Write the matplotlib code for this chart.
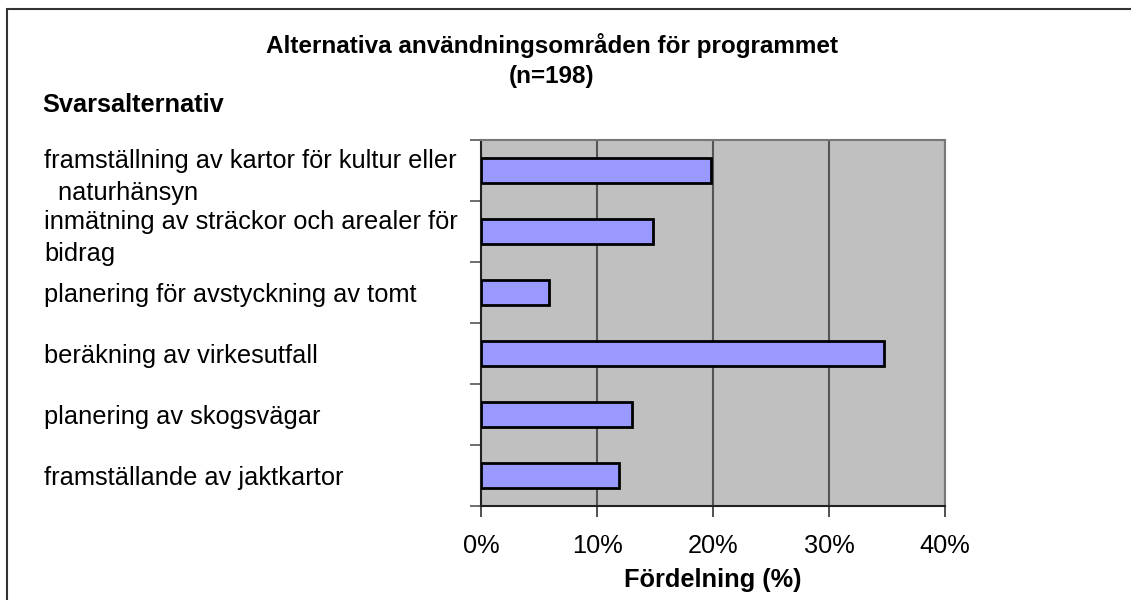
import matplotlib.pyplot as plt
from matplotlib.patches import Rectangle

plt.rcParams['font.family'] = ['Liberation Sans', 'DejaVu Sans']

categories = [
    "framställning av kartor för kultur eller\n  naturhänsyn",
    "inmätning av sträckor och arealer för\nbidrag",
    "planering för avstyckning av tomt",
    "beräkning av virkesutfall",
    "planering av skogsvägar",
    "framställande av jaktkartor",
]
values = [19.8, 14.8, 5.9, 34.7, 13.0, 11.9]
xticks = [0, 10, 20, 30, 40]
xtick_labels = ["0%", "10%", "20%", "30%", "40%"]

W, H = 1131, 600
fs = 18.3
fig = plt.figure(figsize=(W / 100, H / 100), dpi=100)

# outer chart frame (only top/left visible in the picture)
fig.patches.append(Rectangle((6.5 / W, -0.1), 1.2, 1.1 - 9 / H,
                             transform=fig.transFigure, fill=False,
                             edgecolor="#333333", linewidth=1.5))

ax = fig.add_axes([481 / W, 1 - 506 / H, (945 - 481) / W, (506 - 140) / H])
ax.set_facecolor("#C0C0C0")

n = len(categories)
pos = [n - 1 - i + 0.5 for i in range(n)]
ax.barh(pos, values, height=0.4, color="#9999FF", edgecolor="black",
        linewidth=2, zorder=3)

ax.set_xlim(0, 40)
ax.set_ylim(0, n)
ax.set_xticks(xticks)
ax.set_xticklabels(xtick_labels, fontsize=fs)
ax.grid(axis="x", color="#555555", linewidth=1.5, zorder=1)

ax.set_yticks(pos)
ax.set_yticklabels(categories, fontsize=fs, ha="left", linespacing=1.4)
ax.set_yticks(range(n + 1), minor=True)
ax.tick_params(axis="y", which="major", length=0, pad=437 * 0.72)
ax.tick_params(axis="y", which="minor", length=8, width=1.2, color="#555555")
ax.tick_params(axis="x", length=8, width=1.2, color="#333333", pad=12)

for s in ["top", "right"]:
    ax.spines[s].set_color("#777777")
    ax.spines[s].set_linewidth(1.5)
for s in ["left", "bottom"]:
    ax.spines[s].set_color("#222222")
    ax.spines[s].set_linewidth(1.5)

ax.set_xlabel("Fördelning (%)", fontsize=fs, fontweight="bold", labelpad=7)

fig.text(552 / W, 1 - 45 / H, "Alternativa användningsområden för programmet",
         ha="center", va="center", fontsize=17.5, fontweight="bold")
fig.text(552 / W, 1 - 76 / H, "(n=198)", ha="center", va="center",
         fontsize=17.5, fontweight="bold")
fig.text(42 / W, 1 - 105 / H, "Svarsalternativ", ha="left", va="center",
         fontsize=fs, fontweight="bold")

fig.savefig("out.png", dpi=100)
